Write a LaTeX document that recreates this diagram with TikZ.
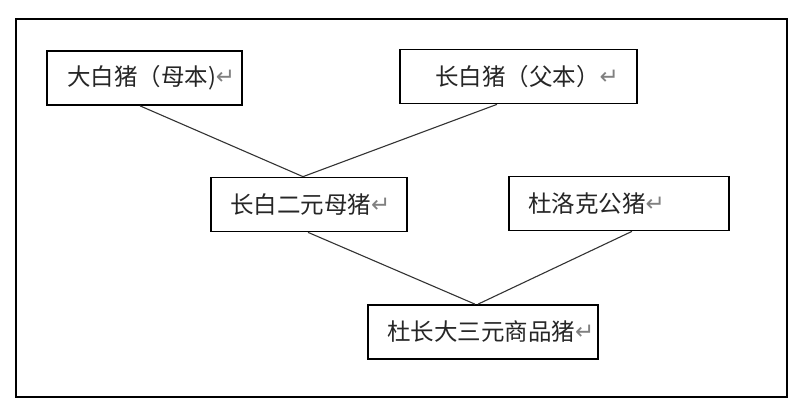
\documentclass[tikz,border=0pt]{standalone}
\usepackage{fontspec}
\newfontfamily\cjk{Noto Sans CJK SC}
\newfontfamily\symf{DejaVu Sans}
\usetikzlibrary{calc}
\definecolor{txt}{rgb}{0.15,0.15,0.15}
\definecolor{ln}{rgb}{0.2,0.2,0.2}
\newcommand{\ret}{\raisebox{1pt}{\symf\fontsize{23}{25}\selectfont\color{gray}↵}}
\newcommand{\lbox}[2]{\makebox[#1][l]{#2}}
\tikzset{
  pbox/.style={draw=black, line width=1.7pt, inner xsep=19pt, inner ysep=0pt,
    minimum height=54pt, text=txt,
    font=\cjk\fontsize{23.5}{26}\selectfont},
  conn/.style={draw=ln, line width=1.1pt}
}
\begin{document}
\begin{tikzpicture}[x=1pt,y=1pt]
\useasboundingbox (0,0) rectangle (800,-415);
\fill[white] (0,0) rectangle (800,-415);
\draw[line width=1.7pt] (16,-19) rectangle (787,-397);
\node[pbox] (b1) at (144.5,-78) {\lbox{157pt}{\hspace*{1pt}大白猪（母本)\ret}};
\node[pbox] (b2) at (518.5,-76.5) {\lbox{199pt}{\hspace*{16pt}长白猪（父本）\ret}};
\node[pbox] (b3) at (309,-204.5) {\lbox{158pt}{长白二元母猪\ret}};
\node[pbox] (b4) at (619,-203.5) {\lbox{182pt}{杜洛克公猪\ret}};
\node[pbox] (b5) at (483,-332) {\lbox{192pt}{杜长大三元商品猪\ret}};
\draw[conn] ([xshift=-4.5pt]b1.south) -- ([xshift=-6pt]b3.north);
\draw[conn] ([xshift=-21.5pt]b2.south) -- ([xshift=-6pt]b3.north);
\draw[conn] ([xshift=-1pt]b3.south) -- ([xshift=-8pt]b5.north);
\draw[conn] ([xshift=13pt]b4.south) -- ([xshift=-5pt]b5.north);
\end{tikzpicture}
\end{document}
